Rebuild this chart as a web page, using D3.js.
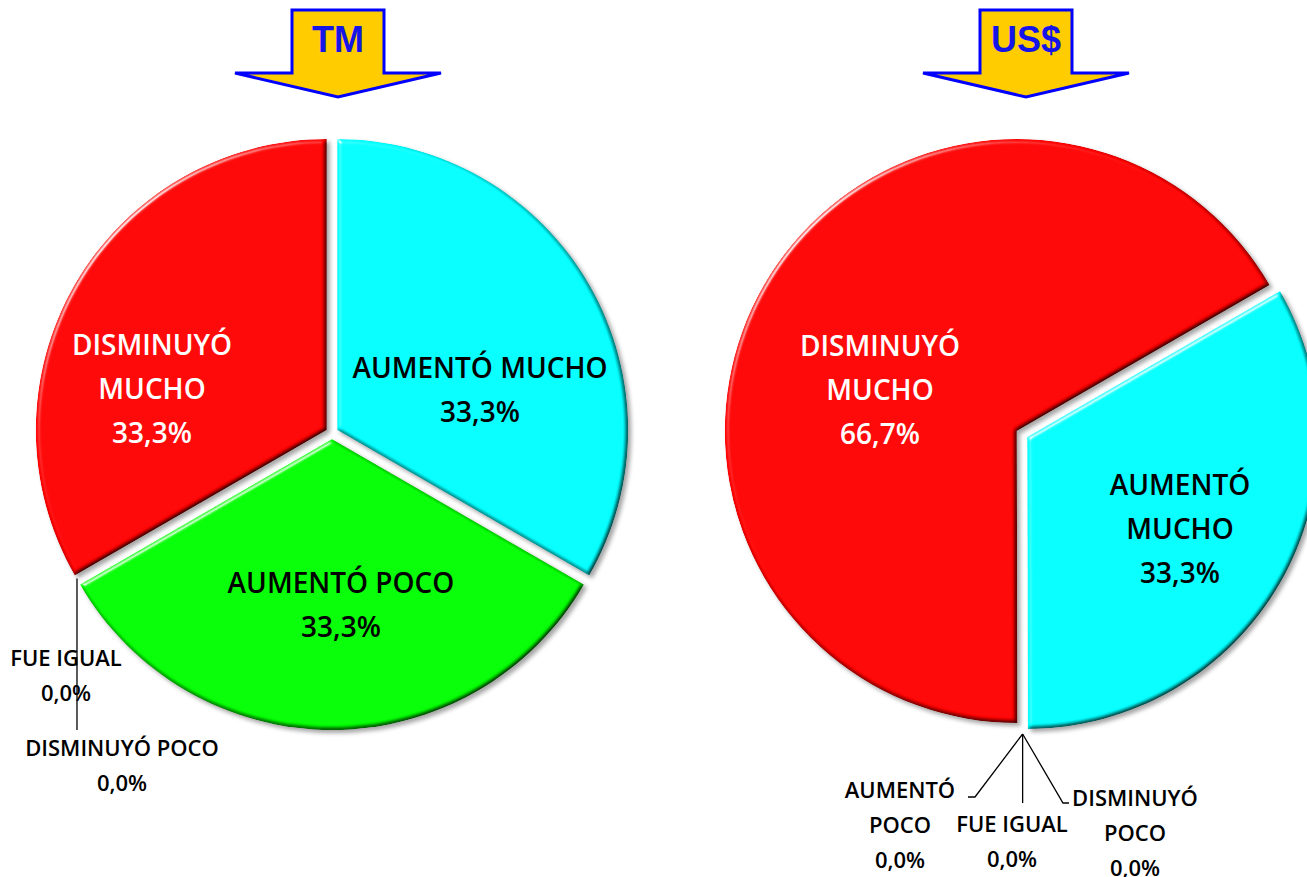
<!DOCTYPE html>
<html><head><meta charset="utf-8">
<script src="https://cdn.jsdelivr.net/npm/d3@7"></script>
<style>
html,body{margin:0;padding:0;background:#fff;overflow:hidden}
svg{display:block}
</style></head>
<body>
<svg id="c" width="1307" height="877"></svg>
<script>
// ---- data ----
const categories = ["AUMENTÓ MUCHO","AUMENTÓ POCO","FUE IGUAL","DISMINUYÓ POCO","DISMINUYÓ MUCHO"];
const colors     = ["#00FFFF","#00FF00","#FFC000","#0070C0","#FF0000"];
const tmValues   = [33.3, 33.3, 0, 0, 33.3];
const usdValues  = [33.3, 0, 0, 0, 66.7];
const chartTitles = ["TM","US$"];

// ---- layout ----
const svg = d3.select("#c");
const defs = svg.append("defs");
const f = defs.append("filter").attr("id","bevel").attr("x","-10%").attr("y","-10%")
  .attr("width","125%").attr("height","125%").attr("color-interpolation-filters","sRGB");
f.append("feGaussianBlur").attr("in","SourceAlpha").attr("stdDeviation",2.2).attr("result","blur");
f.append("feDiffuseLighting").attr("in","blur").attr("surfaceScale",3).attr("diffuseConstant",1.155)
  .attr("lighting-color","#fff").attr("result","diff")
  .append("feDistantLight").attr("azimuth",225).attr("elevation",60);
f.append("feComposite").attr("in","SourceGraphic").attr("in2","diff").attr("operator","arithmetic")
  .attr("k1",1).attr("k2",0).attr("k3",0).attr("k4",0).attr("result","shaded");
f.append("feSpecularLighting").attr("in","blur").attr("surfaceScale",3).attr("specularConstant",0.9)
  .attr("specularExponent",22).attr("lighting-color","#fff").attr("result","spec")
  .append("feDistantLight").attr("azimuth",225).attr("elevation",30);
f.append("feComposite").attr("in","spec").attr("in2","SourceAlpha").attr("operator","in").attr("result","specIn");
f.append("feComposite").attr("in","shaded").attr("in2","specIn").attr("operator","arithmetic")
  .attr("k1",0).attr("k2",1).attr("k3",1).attr("k4",0).attr("result","lit");
f.append("feComposite").attr("in","lit").attr("in2","SourceAlpha").attr("operator","in").attr("result","litIn");
f.append("feGaussianBlur").attr("in","SourceAlpha").attr("stdDeviation",2).attr("result","sb");
f.append("feOffset").attr("in","sb").attr("dx",3).attr("dy",3).attr("result","so");
f.append("feFlood").attr("flood-color","#000").attr("flood-opacity",0.35).attr("result","fc");
f.append("feComposite").attr("in","fc").attr("in2","so").attr("operator","in").attr("result","shadow");
const m = f.append("feMerge");
m.append("feMergeNode").attr("in","shadow");
m.append("feMergeNode").attr("in","litIn");

const fmt = v => d3.format(".1f")(v).replace(".", ",") + "%";
const FONT = "'Open Sans', 'Noto Sans', sans-serif";

const charts = [
  { values: tmValues, cx: 332, cy: 433, r: 291, start: 0,
    arrowX: 338,
    big: { // label anchor (center of first line), lines split
      "AUMENTÓ MUCHO": {x:480, y:368, lines:["AUMENTÓ MUCHO"], fill:"#000"},
      "AUMENTÓ POCO": {x:341, y:583, lines:["AUMENTÓ POCO"], fill:"#000"},
      "DISMINUYÓ MUCHO": {x:152, y:345, lines:["DISMINUYÓ","MUCHO"], fill:"#fff"}
    },
    small: {
      "FUE IGUAL": {x:66, y:658, lines:["FUE IGUAL"]},
      "DISMINUYÓ POCO": {x:122, y:748, lines:["DISMINUYÓ POCO"]}
    },
    leaders: "tm"
  },
  { values: usdValues, cx: 1022, cy: 434, r: 292, start: Math.PI/3,
    arrowX: 1026,
    big: {
      "AUMENTÓ MUCHO": {x:1180, y:485, lines:["AUMENTÓ","MUCHO"], fill:"#000"},
      "DISMINUYÓ MUCHO": {x:880, y:346, lines:["DISMINUYÓ","MUCHO"], fill:"#fff"}
    },
    small: {
      "AUMENTÓ POCO": {x:900, y:790, lines:["AUMENTÓ","POCO"]},
      "FUE IGUAL": {x:1012, y:824, lines:["FUE IGUAL"]},
      "DISMINUYÓ POCO": {x:1135, y:798, lines:["DISMINUYÓ","POCO"]}
    },
    leaders: "usd"
  }
];

charts.forEach((ch, ci) => {
  const data = categories.map((c,i)=>({cat:c, value:ch.values[i], color:colors[i]}));
  const pie = d3.pie().sort(null).value(d=>d.value)
    .startAngle(ch.start).endAngle(ch.start + 2*Math.PI);
  const arcs = pie(data);
  const arc = d3.arc().innerRadius(0).outerRadius(ch.r);
  const explode = 6;
  const g = svg.append("g").attr("transform",`translate(${ch.cx},${ch.cy})`);

  g.selectAll("path.slice").data(arcs.filter(a=>a.data.value>0)).join("path")
    .attr("class","slice")
    .attr("d", arc)
    .attr("fill", d=>d.data.color)
    .attr("filter","url(#bevel)")
    .attr("transform", d => {
      const a = (d.startAngle + d.endAngle)/2;
      return `translate(${explode*Math.sin(a)},${-explode*Math.cos(a)})`;
    });

  // big labels
  arcs.filter(a=>a.data.value>0).forEach(a => {
    const L = ch.big[a.data.cat];
    const lines = L.lines.concat([fmt(a.data.value)]);
    const t = svg.append("text").attr("text-anchor","middle")
      .attr("font-family",FONT).attr("font-weight",600).attr("font-size",28).attr("fill",L.fill);
    lines.forEach((s,k)=>{
      t.append("tspan").attr("x",L.x).attr("y",L.y + 10 + k*44).text(s);
    });
  });

  // zero slices: leader lines + labels
  const zero = arcs.filter(a=>a.data.value===0);
  const ang = zero[0].startAngle;
  const ox = ch.cx + (ch.r+ (ch.leaders==="usd"?8:0))*Math.sin(ang);
  const oy = ch.cy - (ch.r+ (ch.leaders==="usd"?8:0))*Math.cos(ang);
  const lineG = svg.append("g").attr("stroke","#000").attr("stroke-width",1.3).attr("fill","none");
  if (ch.leaders === "tm") {
    lineG.append("path").attr("d",`M${ox-3},${oy}L${ox-3},${730}`);
  } else {
    lineG.append("path").attr("d",`M${ox},${oy}L975,797L968,797`);
    lineG.append("path").attr("d",`M${ox},${oy}L${ox},803`);
    lineG.append("path").attr("d",`M${ox},${oy}L1063,803L1069,803`);
  }
  zero.forEach(a=>{
    const L = ch.small[a.data.cat];
    if(!L) return;
    const lines = L.lines.concat([fmt(a.data.value)]);
    const t = svg.append("text").attr("text-anchor","middle")
      .attr("font-family",FONT).attr("font-weight",600).attr("font-size",22).attr("fill","#000");
    lines.forEach((s,k)=>{
      t.append("tspan").attr("x",L.x).attr("y",L.y + 8 + k*35).text(s);
    });
  });

  // title arrow
  const ax = ch.arrowX;
  const ag = svg.append("g");
  ag.append("path")
    .attr("d",`M${ax-46},10 L${ax+46},10 L${ax+46},73 L${ax+103},73 L${ax},97 L${ax-103},73 L${ax-46},73 Z`)
    .attr("fill","#FFCC00").attr("stroke","#0000FF").attr("stroke-width",3).attr("stroke-linejoin","miter");
  ag.append("text").attr("x",ax).attr("y",52).attr("text-anchor","middle")
    .attr("font-family","'Liberation Sans', Arial, sans-serif").attr("font-weight",700)
    .attr("font-size",36).attr("fill","#1515E8").text(chartTitles[ci]);
});
</script>
</body></html>
